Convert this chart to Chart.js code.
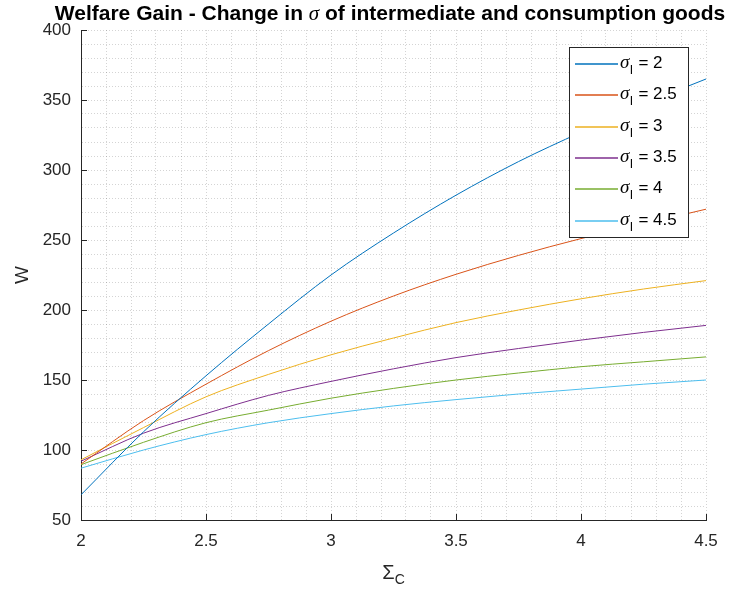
<!DOCTYPE html>
<html>
<head>
<meta charset="utf-8">
<script src="https://cdn.jsdelivr.net/npm/chart.js@4.4.1/dist/chart.umd.min.js"></script>
<style>
  html, body { margin: 0; padding: 0; background: #fff; }
  #wrap { width: 732px; height: 591px; }
</style>
</head>
<body>
<div id="wrap"><canvas id="welfare-chart"></canvas></div>
<script>
const sigmaC = [2, 2.25, 2.5, 2.75, 3, 3.25, 3.5, 3.75, 4, 4.25, 4.5];

// sigma_I for each curve
const sigmaI = [2, 2.5, 3, 3.5, 4, 4.5];

// welfare gain W for each sigma_I
const wSigma2   = [68, 113, 153, 190, 225, 255, 282, 306, 327, 347, 365];
const wSigma2_5 = [90, 121, 147, 171, 192, 210, 225.5, 239, 251, 261.5, 272];
const wSigma3   = [93, 116, 138, 154, 168, 180, 191, 200, 208, 215, 221];
const wSigma3_5 = [92, 112, 126, 139, 149, 158, 166, 172.5, 178.5, 184, 189];
const wSigma4   = [89.5, 105.5, 119.5, 128.5, 137, 144, 150, 155, 159.5, 163, 166.5];
const wSigma4_5 = [87, 100, 111, 119.5, 126, 131.5, 136, 140, 143.5, 147, 150];

const allSeries = [wSigma2, wSigma2_5, wSigma3, wSigma3_5, wSigma4, wSigma4_5];

const xTickLabels = ['2', '2.5', '3', '3.5', '4', '4.5'];
const yTickLabels = ['50', '100', '150', '200', '250', '300', '350', '400'];

// MATLAB default colour order
const lineColors = ['#0072BD', '#D95319', '#EDB120', '#7E2F8E', '#77AC30', '#4DBEEE'];

const axisColor = '#262626';
const sansFont = '"Liberation Sans", Arial, sans-serif';

const datasets = sigmaI.map((s, i) => ({
    label: 'σI = ' + s,
    sigma: s,
    data: sigmaC.map((x, j) => ({ x: x, y: allSeries[i][j] })),
    borderColor: lineColors[i],
    backgroundColor: lineColors[i],
    borderWidth: 1,
    pointRadius: 0,
    cubicInterpolationMode: 'monotone',
    fill: false,
}));

function isMajor(value, list) {
    return list.includes(String(Math.round(value * 100) / 100));
}

// title, axis labels, inward tick marks and the boxed legend
const matlabDecor = {
    id: 'matlabDecor',
    afterDraw(chart) {
        const ctx = chart.ctx;
        const area = chart.chartArea;
        const xs = chart.scales.x;
        const ys = chart.scales.y;
        ctx.save();

        // inward tick marks
        ctx.strokeStyle = axisColor;
        ctx.lineWidth = 1;
        ctx.beginPath();
        xs.ticks.forEach(t => {
            if (!isMajor(t.value, xTickLabels)) return;
            const px = Math.round(xs.getPixelForValue(t.value)) + 0.5;
            ctx.moveTo(px, area.bottom);
            ctx.lineTo(px, area.bottom - 6);
        });
        ys.ticks.forEach(t => {
            if (!isMajor(t.value, yTickLabels)) return;
            const py = Math.round(ys.getPixelForValue(t.value)) + 0.5;
            ctx.moveTo(area.left, py);
            ctx.lineTo(area.left + 6, py);
        });
        ctx.stroke();

        // title with italic sigma
        const t1 = 'Welfare Gain - Change in ';
        const t2 = 'σ';
        const t3 = ' of intermediate and consumption goods';
        const boldFont = 'bold 21px ' + sansFont;
        const sigFont = 'italic 21px "Liberation Serif", serif';
        ctx.font = boldFont;
        const w1 = ctx.measureText(t1).width;
        const w3 = ctx.measureText(t3).width;
        ctx.font = sigFont;
        const w2 = ctx.measureText(t2).width;
        let tx = 390 - (w1 + w2 + w3) / 2;
        const ty = 14;
        ctx.fillStyle = '#000';
        ctx.textBaseline = 'middle';
        ctx.textAlign = 'left';
        ctx.font = boldFont;
        ctx.fillText(t1, tx, ty);
        tx += w1;
        ctx.font = sigFont;
        ctx.fillText(t2, tx, ty);
        tx += w2;
        ctx.font = boldFont;
        ctx.fillText(t3, tx, ty);

        // y axis label
        ctx.fillStyle = axisColor;
        ctx.save();
        ctx.translate(23, (area.top + area.bottom) / 2);
        ctx.rotate(-Math.PI / 2);
        ctx.textAlign = 'center';
        ctx.font = '19px ' + sansFont;
        ctx.fillText('W', 0, 0);
        ctx.restore();

        // x axis label: Sigma with subscript C
        const cx = (area.left + area.right) / 2;
        ctx.font = '20px ' + sansFont;
        const sw = ctx.measureText('Σ').width;
        ctx.font = '14px ' + sansFont;
        const cw = ctx.measureText('C').width;
        let lx = cx - (sw + cw) / 2;
        ctx.textAlign = 'left';
        ctx.font = '20px ' + sansFont;
        ctx.fillText('Σ', lx, 573);
        ctx.font = '14px ' + sansFont;
        ctx.fillText('C', lx + sw, 580);

        // legend box
        const bx = 569.5, by = 47.5, bw = 119, bh = 190;
        ctx.fillStyle = '#fff';
        ctx.fillRect(bx, by, bw, bh);
        ctx.strokeStyle = axisColor;
        ctx.strokeRect(bx, by, bw, bh);
        chart.data.datasets.forEach((ds, i) => {
            const ry = Math.round(64 + i * 31.3);
            ctx.strokeStyle = ds.borderColor;
            ctx.lineWidth = 1.5;
            ctx.beginPath();
            ctx.moveTo(575, ry);
            ctx.lineTo(618, ry);
            ctx.stroke();
            let lx2 = 620;
            ctx.fillStyle = '#000';
            ctx.font = 'italic 19px "Liberation Serif", serif';
            ctx.fillText('σ', lx2, ry - 1);
            lx2 += ctx.measureText('σ').width;
            ctx.font = '12px ' + sansFont;
            ctx.fillText('I', lx2 + 0.5, ry + 7);
            lx2 += ctx.measureText('I').width + 1;
            ctx.font = '17px ' + sansFont;
            ctx.fillText(' = ' + ds.sigma, lx2, ry - 1);
        });

        ctx.restore();
    }
};

const chartCtx = document.getElementById('welfare-chart').getContext('2d');

const welfareChart = new Chart(chartCtx, {
    type: 'line',
    data: { datasets: datasets },
    options: {
        responsive: true,
        maintainAspectRatio: false,
        animation: false,
        layout: { padding: { top: 30, right: 26, bottom: 0, left: 0 } },
        plugins: {
            legend: { display: false },
            title: { display: false },
            tooltip: { enabled: false },
        },
        scales: {
            x: {
                type: 'linear',
                min: 2,
                max: 4.5,
                afterFit(scale) { scale.height = 71; },
                ticks: {
                    stepSize: 0.1,
                    autoSkip: false,
                    maxRotation: 0,
                    padding: 11,
                    color: axisColor,
                    font: { family: sansFont, size: 17 },
                    callback: v => isMajor(v, xTickLabels) ? String(Math.round(v * 100) / 100) : '',
                },
                grid: { color: 'rgba(38,38,38,0.2)', lineWidth: 1, drawTicks: false },
                border: { display: true, color: axisColor, width: 1, dash: [1, 2] },
            },
            y: {
                type: 'linear',
                min: 50,
                max: 400,
                afterFit(scale) { scale.width = 81; },
                ticks: {
                    stepSize: 10,
                    autoSkip: false,
                    padding: 10,
                    color: axisColor,
                    font: { family: sansFont, size: 17 },
                    callback: v => isMajor(v, yTickLabels) ? String(v) : '',
                },
                grid: { color: 'rgba(38,38,38,0.2)', lineWidth: 1, drawTicks: false },
                border: { display: true, color: axisColor, width: 1, dash: [1, 2] },
            }
        }
    },
    plugins: [matlabDecor]
});
</script>
</body>
</html>
